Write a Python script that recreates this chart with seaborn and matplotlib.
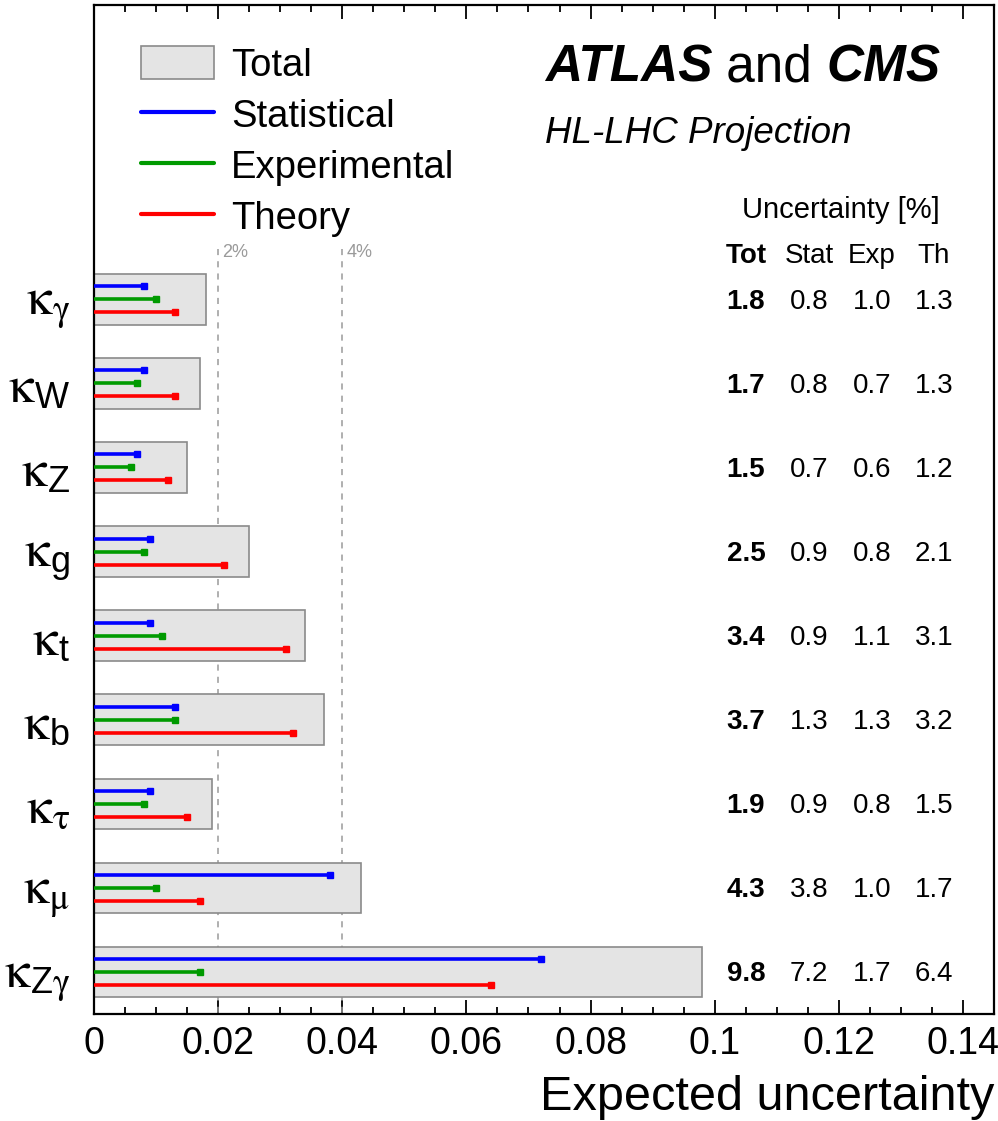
import numpy as np
import pandas as pd
import matplotlib
matplotlib.use("Agg")
import matplotlib.pyplot as plt
import matplotlib.transforms as mtransforms
from matplotlib.patches import Patch
from matplotlib.lines import Line2D
from matplotlib.ticker import MultipleLocator, FuncFormatter
import seaborn as sns

# Coupling modifiers and their projected uncertainties (in %)
couplings = [r"$\mathrm{\kappa}_{\mathrm{\gamma}}$", r"$\mathrm{\kappa}_{\mathsf{W}}$",
             r"$\mathrm{\kappa}_{\mathsf{Z}}$", r"$\mathrm{\kappa}_{\mathsf{g}}$",
             r"$\mathrm{\kappa}_{\mathsf{t}}$", r"$\mathrm{\kappa}_{\mathsf{b}}$",
             r"$\mathrm{\kappa}_{\mathrm{\tau}}$", r"$\mathrm{\kappa}_{\mathrm{\mu}}$",
             r"$\mathrm{\kappa}_{\mathsf{Z}\mathrm{\gamma}}$"]
total_pct = [1.8, 1.7, 1.5, 2.5, 3.4, 3.7, 1.9, 4.3, 9.8]
stat_pct = [0.8, 0.8, 0.7, 0.9, 0.9, 1.3, 0.9, 3.8, 7.2]
exp_pct = [1.0, 0.7, 0.6, 0.8, 1.1, 1.3, 0.8, 1.0, 1.7]
theo_pct = [1.3, 1.3, 1.2, 2.1, 3.1, 3.2, 1.5, 1.7, 6.4]
xtick_values = [0, 0.02, 0.04, 0.06, 0.08, 0.1, 0.12, 0.14]

df = pd.DataFrame({
    "coupling": couplings,
    "total": np.array(total_pct) / 100,
    "stat": np.array(stat_pct) / 100,
    "exp": np.array(exp_pct) / 100,
    "theo": np.array(theo_pct) / 100,
})

sns.set_theme(style="ticks")
plt.rcParams["font.family"] = ["Liberation Sans", "DejaVu Sans"]
plt.rcParams["mathtext.fontset"] = "custom"
plt.rcParams["mathtext.rm"] = "STIXGeneral"
plt.rcParams["mathtext.it"] = "STIXGeneral:italic"
plt.rcParams["mathtext.sf"] = "Liberation Sans"
plt.rcParams["mathtext.bf"] = "STIXGeneral:bold"
for key in ["text.color", "axes.labelcolor", "xtick.color", "ytick.color",
            "axes.edgecolor"]:
    plt.rcParams[key] = "black"

W, H = 998, 1121
fig = plt.figure(figsize=(W / 100, H / 100), dpi=100)
ax = fig.add_axes([94 / W, 1 - 1014 / H, 900 / W, 1009 / H])

BOX_FILL = "#e4e4e4"
BOX_EDGE = "#8a8a8a"
C_STAT, C_EXP, C_THEO = "#0000ff", "#009a00", "#ff0000"

# Total uncertainty as grey boxes
sns.barplot(data=df, x="total", y="coupling", orient="h", width=0.6,
            color=BOX_FILL, edgecolor=BOX_EDGE, linewidth=1.2,
            saturation=1, ax=ax, zorder=2)

ypos = np.arange(len(couplings))

# Reference lines at 2% and 4%
for xv, lab in [(0.02, "2%"), (0.04, "4%")]:
    ax.vlines(xv, -0.6, 8.5, colors="#9a9a9a", linestyles=(0, (4, 4)),
              linewidth=1.1, zorder=1.5)
    ax.text(xv + 0.0007, -0.56, lab, color="#9a9a9a", fontsize=13,
            ha="left", va="center")

# Component bars with end caps
for col, color, off in [("stat", C_STAT, -0.155), ("exp", C_EXP, 0.0),
                        ("theo", C_THEO, 0.155)]:
    vals = df[col].to_numpy()
    ax.hlines(ypos + off, 0, vals, colors=color, linewidth=2.6, zorder=3)
    ax.plot(vals, ypos + off, ls="none", marker="s", ms=4.6, color=color,
            mec=color, zorder=3.5)

ax.set_xlim(0, 0.145)
ax.set_ylim(8.5, -3.5)
ax.set_ylabel("")
ax.set_xticks(xtick_values)
ax.xaxis.set_major_formatter(FuncFormatter(lambda v, p: f"{v:g}"))
ax.xaxis.set_minor_locator(MultipleLocator(0.005))
ax.tick_params(axis="x", which="both", direction="in", top=True, bottom=True,
               labelsize=27, pad=9, width=1.3, color="black")
ax.tick_params(axis="x", which="major", length=10)
ax.tick_params(axis="x", which="minor", length=5)
ax.tick_params(axis="y", which="both", length=0, labelsize=37, pad=17)
ax.set_yticks(ypos)
ax.set_yticklabels(couplings)
for s in ax.spines.values():
    s.set_visible(True)
    s.set_linewidth(1.6)
    s.set_color("black")

ax.set_xlabel("Expected uncertainty", fontsize=35, loc="right", labelpad=9)

# Legend
handles = [Patch(facecolor=BOX_FILL, edgecolor=BOX_EDGE, linewidth=1.2),
           Line2D([], [], color=C_STAT, lw=3),
           Line2D([], [], color=C_EXP, lw=3),
           Line2D([], [], color=C_THEO, lw=3)]
fig.legend(handles, ["Total", "Statistical", "Experimental", "Theory"],
           loc="upper left", bbox_to_anchor=(141 / W, 1 - 46 / H),
           frameon=False, fontsize=27.5, handlelength=1.9, handleheight=0.95,
           handletextpad=0.45, labelspacing=0.35, borderpad=0, borderaxespad=0)

# Experiment label
t1 = fig.text(545 / W, 1 - 82 / H, "ATLAS", fontsize=37, fontweight="bold",
              fontstyle="italic", va="baseline", ha="left")
t2 = ax.annotate(" and ", xy=(1, 0), xycoords=t1, fontsize=37,
                 va="bottom", ha="left")
ax.annotate("CMS", xy=(1, 0), xycoords=t2, fontsize=37, fontweight="bold",
            fontstyle="italic", va="bottom", ha="left")
fig.text(545 / W, 1 - 143 / H, "HL-LHC Projection", fontsize=26.5,
         fontstyle="italic", va="baseline", ha="left")

# Uncertainty table
fig.text(841 / W, 1 - 210 / H, "Uncertainty [%]", fontsize=21,
         ha="center", va="center")
col_x = [746, 809, 872, 934]
headers = ["Tot", "Stat", "Exp", "Th"]
for cx, hd in zip(col_x, headers):
    fig.text(cx / W, 1 - 256 / H, hd, fontsize=20, ha="center", va="center",
             fontweight="bold" if hd == "Tot" else "normal")

trans = mtransforms.blended_transform_factory(fig.transFigure, ax.transData)
for i in range(len(couplings)):
    row = [total_pct[i], stat_pct[i], exp_pct[i], theo_pct[i]]
    for j, (cx, v) in enumerate(zip(col_x, row)):
        ax.text(cx / W, ypos[i] + 0.03, f"{v:.1f}", transform=trans,
                fontsize=20, ha="center", va="center",
                fontweight="bold" if j == 0 else "normal")

fig.savefig("out.png", dpi=100)
